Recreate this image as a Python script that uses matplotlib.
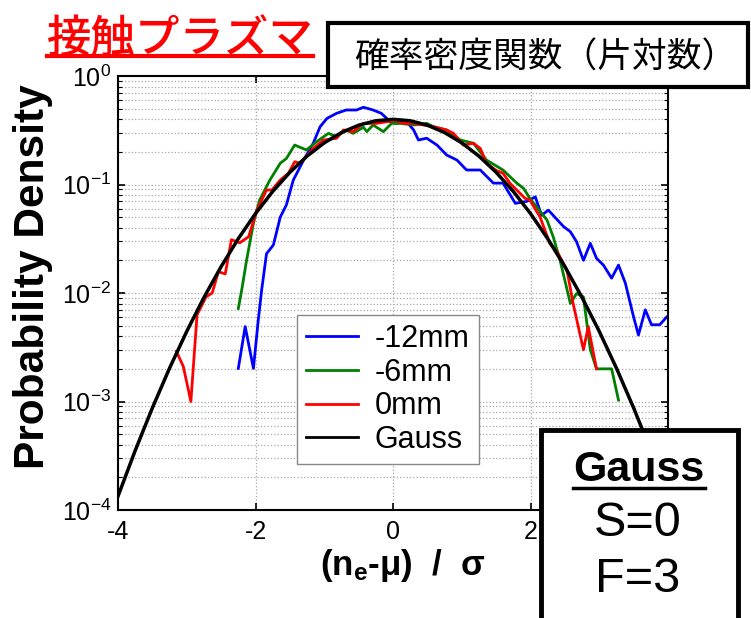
import matplotlib
matplotlib.use("Agg")
import matplotlib.pyplot as plt
from matplotlib.patches import Rectangle
from matplotlib.lines import Line2D
from matplotlib.ticker import LogLocator, FixedLocator, FixedFormatter, NullFormatter

plt.rcParams['font.family'] = ['Liberation Sans', 'DejaVu Sans']
plt.rcParams['mathtext.fontset'] = 'custom'
plt.rcParams['mathtext.rm'] = 'Liberation Sans'
plt.rcParams['mathtext.it'] = 'Liberation Sans:italic'
plt.rcParams['mathtext.bf'] = 'Liberation Sans:bold'
plt.rcParams['axes.unicode_minus'] = False

# ---- data ----
x_12 = [-2.25, -2.15, -2.03, -1.96, -1.91, -1.84, -1.74, -1.64, -1.55, -1.45, -1.30, -1.16,
        -1.06, -0.96, -0.82, -0.68, -0.53, -0.43, -0.29, -0.17, -0.04, 0.05, 0.20, 0.30,
        0.37, 0.49, 0.64, 0.78, 0.93, 1.07, 1.27, 1.46, 1.60, 1.78, 1.95, 2.07, 2.16, 2.26,
        2.48, 2.58, 2.67, 2.77, 2.87, 2.96, 3.06, 3.18, 3.28, 3.38, 3.50, 3.57, 3.67, 3.76,
        3.88, 3.98]
y_12 = [0.00202, 0.0049, 0.00202, 0.0056, 0.0107, 0.023, 0.0277, 0.050, 0.065, 0.110, 0.168,
        0.240, 0.341, 0.407, 0.453, 0.486, 0.486, 0.515, 0.486, 0.453, 0.379, 0.366, 0.379,
        0.318, 0.257, 0.267, 0.231, 0.187, 0.168, 0.136, 0.136, 0.103, 0.103, 0.067, 0.070,
        0.077, 0.052, 0.058, 0.041, 0.0367, 0.0297, 0.020, 0.0287, 0.0209, 0.0181, 0.0137,
        0.0181, 0.0123, 0.0060, 0.0041, 0.0070, 0.0051, 0.0051, 0.0060]

x_6 = [-2.25, -2.20, -2.13, -2.03, -1.94, -1.79, -1.64, -1.55, -1.43, -1.26, -1.11, -0.94,
       -0.82, -0.68, -0.58, -0.43, -0.38, -0.29, -0.14, -0.02, 0.10, 0.30, 0.49, 0.59, 0.78,
       0.98, 1.17, 1.36, 1.60, 1.80, 1.90, 1.99, 2.24, 2.33, 2.43, 2.58, 2.67, 2.77, 2.87,
       2.96, 3.18, 3.28]
y_6 = [0.0072, 0.0107, 0.020, 0.044, 0.072, 0.110, 0.157, 0.174, 0.231, 0.208, 0.248, 0.296,
       0.276, 0.318, 0.296, 0.337, 0.307, 0.354, 0.307, 0.366, 0.366, 0.354, 0.366, 0.341,
       0.318, 0.257, 0.240, 0.168, 0.136, 0.103, 0.092, 0.0746, 0.047, 0.033, 0.020, 0.0080,
       0.0099, 0.0092, 0.0030, 0.0020, 0.0020, 0.00103]

x_0 = [-3.15, -3.05, -2.94, -2.85, -2.72, -2.63, -2.54, -2.44, -2.35, -2.23, -2.10, -1.98,
       -1.84, -1.76, -1.64, -1.52, -1.43, -1.35, -1.16, -1.01, -0.82, -0.72, -0.58, -0.43,
       -0.24, -0.09, 0.05, 0.15, 0.30, 0.59, 0.78, 0.88, 1.02, 1.17, 1.27, 1.36, 1.50, 1.60,
       1.70, 1.92, 1.99, 2.14, 2.28, 2.40, 2.53, 2.62, 2.77, 2.84, 2.96]
y_0 = [0.0029, 0.0021, 0.00100, 0.0063, 0.0092, 0.0100, 0.0157, 0.0150, 0.031, 0.029, 0.033,
       0.058, 0.089, 0.089, 0.110, 0.127, 0.162, 0.157, 0.215, 0.257, 0.267, 0.318, 0.307,
       0.366, 0.366, 0.379, 0.387, 0.366, 0.366, 0.341, 0.318, 0.296, 0.231, 0.240, 0.215,
       0.157, 0.135, 0.127, 0.103, 0.0746, 0.072, 0.050, 0.0287, 0.0232, 0.0163, 0.0080,
       0.0030, 0.0049, 0.0020]

x_gauss = [-4.0, -3.75, -3.5, -3.25, -3.0, -2.75, -2.5, -2.25, -2.0, -1.75, -1.5, -1.25, -1.0,
           -0.75, -0.5, -0.25, 0.0, 0.25, 0.5, 0.75, 1.0, 1.25, 1.5, 1.75, 2.0, 2.25, 2.5,
           2.75, 3.0, 3.25, 3.5, 3.75, 4.0]
y_gauss = [0.000134, 0.000353, 0.000873, 0.00203, 0.00443, 0.00909, 0.0175, 0.0317, 0.0540,
           0.0863, 0.1295, 0.1826, 0.2420, 0.3011, 0.3521, 0.3867, 0.3989, 0.3867, 0.3521,
           0.3011, 0.2420, 0.1826, 0.1295, 0.0863, 0.0540, 0.0317, 0.0175, 0.00909, 0.00443,
           0.00203, 0.000873, 0.000353, 0.000134]

series_labels = ['-12mm', '-6mm', '0mm', 'Gauss']
x_ticks = [-4, -2, 0, 2, 4]
x_ticklabels = ['-4', '-2', '0', '2', '']  # "4" is hidden behind the Gauss box

W, H = 751, 618
fig = plt.figure(figsize=(W / 100, H / 100), dpi=100)


def fx(px):
    return px / W


def fy(py):
    return 1 - py / H


ax = fig.add_axes([fx(118), fy(510), 550 / W, 434 / H])
ax.set_yscale('log')
ax.plot(x_12, y_12, color='#0000ff', lw=2, label=series_labels[0])
ax.plot(x_6, y_6, color='#008000', lw=2, label=series_labels[1])
ax.plot(x_0, y_0, color='#ff0000', lw=2, label=series_labels[2])
ax.plot(x_gauss, y_gauss, color='black', lw=2.5, label=series_labels[3])
ax.set_xlim(-4, 4)
ax.set_ylim(1e-4, 1)
ax.xaxis.set_major_locator(FixedLocator(x_ticks))
ax.xaxis.set_major_formatter(FixedFormatter(x_ticklabels))
ax.yaxis.set_major_locator(LogLocator(base=10, numticks=10))
ax.yaxis.set_minor_locator(LogLocator(base=10, subs=range(2, 10), numticks=50))
ax.yaxis.set_minor_formatter(NullFormatter())
ax.tick_params(which='both', direction='in', top=True, right=True, labelsize=18)
ax.tick_params(which='major', length=5, width=1.2)
ax.tick_params(which='minor', length=3, width=0.8)
ax.tick_params(axis='x', pad=7)
ax.tick_params(axis='y', pad=5)
ax.grid(True, which='major', axis='x', ls=':', color='#a8a8a8', lw=0.9)
ax.grid(True, which='both', axis='y', ls=':', color='#a8a8a8', lw=0.9)
for s in ax.spines.values():
    s.set_linewidth(1.5)

ax.set_ylabel('Probability Density', fontsize=30.5, fontweight='bold')
ax.yaxis.set_label_coords(-(118 - 33) / 550, (510 - 277) / 434)
ax.set_xlabel(r'(n$_{\mathbf{e}}$-μ)  /  σ', fontsize=25, fontweight='bold')
ax.xaxis.set_label_coords((403 - 118) / 550, -(566 - 510) / 434)
ax.xaxis.label.set_va('center')
ax.yaxis.label.set_va('center')

leg = ax.legend(loc='upper left', bbox_to_anchor=((297 - 118) / 550, (510 - 315) / 434),
                borderaxespad=0, fancybox=False, edgecolor='#888888', framealpha=1,
                fontsize=22, handlelength=1.7, handletextpad=0.55, labelspacing=0.12,
                borderpad=0.3)
leg.get_frame().set_linewidth(1.0)
for h in leg.legend_handles:
    h.set_linewidth(2)

# title
fig.text(fx(47), fy(52), '接触プラズマ', color='red', fontsize=32, fontweight='medium',
         family=['Noto Sans CJK JP', 'DejaVu Sans'], va='baseline', ha='left')
fig.add_artist(Line2D([fx(47), fx(313)], [fy(56), fy(56)], color='red', lw=3,
                      transform=fig.transFigure))

# top-right box
fig.add_artist(Rectangle((fx(328), fy(87)), (748 - 328) / W, (87 - 23) / H,
                         transform=fig.transFigure, facecolor='white', edgecolor='black',
                         lw=3, zorder=5))
fig.text(fx(545), fy(58), '確率密度関数（片対数）', fontsize=25,
         family=['Noto Sans CJK JP', 'DejaVu Sans'], ha='center', va='center', zorder=6)

# bottom-right box
fig.add_artist(Rectangle((fx(541), fy(640)), (738 - 541) / W, (640 - 430) / H,
                         transform=fig.transFigure, facecolor='white', edgecolor='black',
                         lw=3.5, zorder=5))
fig.text(fx(639), fy(470), 'Gauss', fontsize=31, fontweight='bold', ha='center',
         va='center', zorder=6)
fig.add_artist(Line2D([fx(573), fx(705)], [fy(488), fy(488)], color='black', lw=2.5,
                      transform=fig.transFigure, zorder=6))
fig.text(fx(638), fy(524), 'S=0', fontsize=35, ha='center', va='center', zorder=6)
fig.text(fx(638), fy(579), 'F=3', fontsize=35, ha='center', va='center', zorder=6)

fig.savefig('out.png', dpi=100)
